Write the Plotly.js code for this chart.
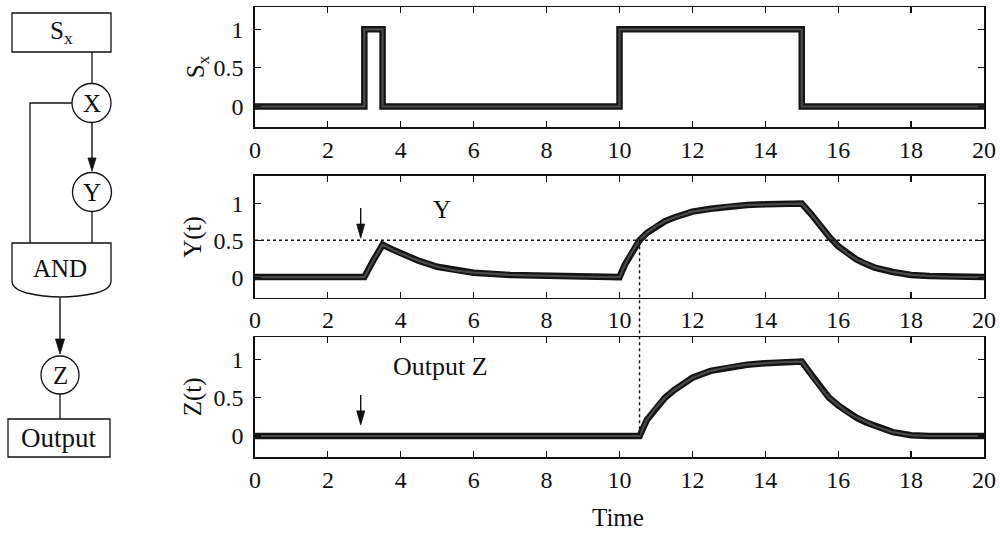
<!DOCTYPE html>
<html>
<head>
<meta charset="utf-8">
<script src="https://cdn.plot.ly/plotly-3.0.1.min.js"></script>
<style>
  html, body { margin: 0; padding: 0; background: #ffffff; }
  #chart { width: 1000px; height: 534px; }
</style>
</head>
<body>
<div id="chart"></div>
<script>
// Input signal Sx: two pulses (short one at t=3, long one from 10 to 15)
const tSx = [0, 3, 3.5, 10, 15, 20];
const sx  = [0, 1, 0,   1,  0,  0];

// Intermediate regulator Y(t)
const tY = [0, 3, 3.25, 3.5, 3.75, 4, 4.5, 5, 5.5, 6, 7, 8, 9, 10,
            10.15, 10.3, 10.55, 10.75, 11, 11.25, 11.5, 12, 12.5, 13, 13.5, 14, 14.5, 15,
            15.25, 15.5, 15.75, 16, 16.25, 16.5, 16.75, 17, 17.5, 18, 18.5, 19, 20];
const yVals = [0, 0, 0.23, 0.44, 0.38, 0.32, 0.22, 0.14, 0.09, 0.06, 0.03, 0.015, 0.005, 0,
            0.17, 0.31, 0.5, 0.6, 0.69, 0.76, 0.81, 0.89, 0.93, 0.96, 0.98, 0.99, 1.0, 1.0,
            0.86, 0.7, 0.55, 0.42, 0.32, 0.24, 0.18, 0.13, 0.07, 0.03, 0.015, 0.005, 0];

// Output Z(t)
const tZ = [0, 10.55, 10.75, 11, 11.25, 11.5, 12, 12.5, 13, 13.5, 14, 14.5, 15,
            15.25, 15.5, 15.75, 16, 16.25, 16.5, 16.75, 17, 17.5, 18, 18.5, 20];
const zVals = [0, 0, 0.21, 0.37, 0.5, 0.6, 0.76, 0.85, 0.9, 0.93, 0.95, 0.965, 0.97,
            0.81, 0.64, 0.5, 0.4, 0.31, 0.24, 0.18, 0.13, 0.05, 0.01, 0, 0];

const xTicks = [0, 2, 4, 6, 8, 10, 12, 14, 16, 18, 20];
const yTicks = [0, 0.5, 1];
const threshold = 0.5;    // activation threshold of Y
const tDelay = 10.55;     // time Y crosses the threshold
const arrowT = 2.9;       // time of the brief pulse marker

const FONT = '"Liberation Serif", "DejaVu Serif", "Times New Roman", serif';
const INK = '#111111';

// panel geometry (paper fractions, full-page paper)
const xDom = [0.255, 0.984];
const dom1 = [0.7616, 0.9863], rng1 = [-0.27, 1.285];
const dom2 = [0.4425, 0.6704], rng2 = [-0.28, 1.374];
const dom3 = [0.1436, 0.3683], rng3 = [-0.278, 1.287];

function paperY(dom, rng, v) {
  return dom[0] + (v - rng[0]) / (rng[1] - rng[0]) * (dom[1] - dom[0]);
}
// pixels per data unit for a panel (page is 1000 x 534)
const pxX = (xDom[1] - xDom[0]) * 1000 / 20;
const pxY = (dom, rng) => (dom[1] - dom[0]) * 534 / (rng[1] - rng[0]);

function xAxis(anchor) {
  return {
    domain: xDom, range: [0, 20], anchor: anchor,
    tickvals: xTicks, ticks: 'inside', ticklen: 6, tickwidth: 1.2, tickcolor: INK,
    showline: true, linecolor: INK, linewidth: 1.6, mirror: 'ticks',
    showgrid: false, zeroline: false, ticklabelstandoff: 0,
    tickfont: { family: FONT, size: 24, color: INK }
  };
}
function yAxis(anchor, dom, rng) {
  return {
    domain: dom, range: rng, anchor: anchor,
    tickvals: yTicks, ticktext: ['0', '0.5', '1'], ticks: 'inside', ticklen: 6, tickwidth: 1.2, tickcolor: INK,
    showline: true, linecolor: INK, linewidth: 1.6, mirror: 'ticks',
    showgrid: false, zeroline: false, ticklabelstandoff: 5,
    tickfont: { family: FONT, size: 24, color: INK }
  };
}

// thick plotted line: dark outer stroke with a lighter core
function thickLine(x, y, xa, ya, shape) {
  return [
    { x: x, y: y, xaxis: xa, yaxis: ya, type: 'scatter', mode: 'lines',
      line: { color: '#141414', width: 6.5, shape: shape || 'linear' }, hoverinfo: 'skip' },
    { x: x, y: y, xaxis: xa, yaxis: ya, type: 'scatter', mode: 'lines',
      line: { color: '#4a4a46', width: 2.2, shape: shape || 'linear' }, hoverinfo: 'skip' }
  ];
}

const traces = [
  ...thickLine(tSx, sx, 'x', 'y', 'hv'),
  ...thickLine(tY, yVals, 'x2', 'y2'),
  ...thickLine(tZ, zVals, 'x3', 'y3'),
  // invisible frame for the network diagram (pixel-like units)
  { x: [], y: [], xaxis: 'x4', yaxis: 'y4', type: 'scatter', mode: 'lines', hoverinfo: 'skip' }
];

// downward-pointing arrow: shaft plus filled head; ky < 0 means the y axis runs top-down
function downArrow(xref, yref, x, yTail, yTip, kx, ky, headLen, headW) {
  const s = ky > 0 ? 1 : -1;
  const hl = headLen / Math.abs(ky), hw = headW / 2 / kx;
  const base = yTip + s * hl;
  return [
    { type: 'line', xref: xref, yref: yref, x0: x, x1: x, y0: yTail, y1: yTip + s * hl * 0.6,
      line: { color: INK, width: 1.4 } },
    { type: 'path', xref: xref, yref: yref, fillcolor: INK, line: { color: INK, width: 0.8 },
      path: `M${x},${yTip} L${x - hw},${base} L${x + hw},${base} Z` }
  ];
}

const D = { xref: 'x4', yref: 'y4' };
const dLine = { color: INK, width: 1.3 };
const shapes = [
  // threshold line in the Y panel
  { type: 'line', xref: 'x2', yref: 'y2', x0: 0, x1: 20, y0: threshold, y1: threshold,
    line: { color: INK, width: 1.4, dash: '3px,3px' } },
  // delay marker from Y crossing down to the start of Z
  { type: 'line', xref: 'x', yref: 'paper', x0: tDelay, x1: tDelay,
    y0: paperY(dom2, rng2, threshold), y1: paperY(dom3, rng3, 0),
    line: { color: INK, width: 1.4, dash: '3px,3px' } },
  // pulse markers at t = 2.9
  ...downArrow('x2', 'y2', arrowT, 0.94, 0.53, pxX, pxY(dom2, rng2), 14, 8),
  ...downArrow('x3', 'y3', arrowT, 0.535, 0.145, pxX, pxY(dom3, rng3), 14, 8),

  // network diagram
  { type: 'rect', ...D, x0: 12, x1: 111, y0: 13, y1: 52, line: dLine },
  { type: 'line', ...D, x0: 92, x1: 92, y0: 52, y1: 83.5, line: dLine },
  { type: 'circle', ...D, x0: 72, x1: 111, y0: 83.5, y1: 122.5, line: dLine },
  { type: 'path', ...D, path: 'M72,103 L30,103 L30,243', line: dLine },
  ...downArrow('x4', 'y4', 92, 122.5, 171, 1, -1, 13, 8),
  { type: 'circle', ...D, x0: 72.5, x1: 111.5, y0: 172.5, y1: 211.5, line: dLine },
  { type: 'line', ...D, x0: 92, x1: 92, y0: 211.5, y1: 243, line: dLine },
  { type: 'path', ...D,
    path: 'M12,243 L111,243 L111,281 Q111,289 96,293 Q60,301 27,293 Q12,289 12,281 Z', line: dLine },
  ...downArrow('x4', 'y4', 60, 298, 354, 1, -1, 15, 9),
  { type: 'circle', ...D, x0: 41, x1: 79, y0: 356, y1: 394, line: dLine },
  { type: 'line', ...D, x0: 60, x1: 60, y0: 394, y1: 419, line: dLine },
  { type: 'rect', ...D, x0: 8, x1: 110, y0: 419, y1: 457, line: dLine }
];

const txt = (size) => ({ family: FONT, size: size, color: INK });
const annotations = [
  // y-axis titles
  { xref: 'paper', yref: 'paper', x: 0.197, y: (dom1[0] + dom1[1]) / 2, text: 'S<sub>x</sub>',
    showarrow: false, textangle: -90, font: txt(25), xanchor: 'center', yanchor: 'middle' },
  { xref: 'paper', yref: 'paper', x: 0.193, y: (dom2[0] + dom2[1]) / 2, text: 'Y(t)',
    showarrow: false, textangle: -90, font: txt(25), xanchor: 'center', yanchor: 'middle' },
  { xref: 'paper', yref: 'paper', x: 0.193, y: (dom3[0] + dom3[1]) / 2, text: 'Z(t)',
    showarrow: false, textangle: -90, font: txt(25), xanchor: 'center', yanchor: 'middle' },
  // x-axis title
  { xref: 'paper', yref: 'paper', x: 0.618, y: 0.031, text: 'Time',
    showarrow: false, font: txt(25), xanchor: 'center', yanchor: 'middle' },
  // in-panel labels
  { xref: 'x2', yref: 'y2', x: 5.13, y: 0.92, text: 'Y', showarrow: false, font: txt(25) },
  { xref: 'x3', yref: 'y3', x: 5.08, y: 0.9, text: 'Output Z', showarrow: false, font: txt(26) },

  // diagram labels
  { ...D, x: 61, y: 32, text: 'S<sub>x</sub>', showarrow: false, font: txt(25) },
  { ...D, x: 91.5, y: 103, text: 'X', showarrow: false, font: txt(25) },
  { ...D, x: 92, y: 192, text: 'Y', showarrow: false, font: txt(25) },
  { ...D, x: 60, y: 268, text: 'AND', showarrow: false, font: txt(25) },
  { ...D, x: 60, y: 375, text: 'Z', showarrow: false, font: txt(25) },
  { ...D, x: 59, y: 438, text: 'Output', showarrow: false, font: txt(27) }
];

const layout = {
  width: 1000, height: 534,
  margin: { l: 0, r: 0, t: 0, b: 0 },
  paper_bgcolor: '#ffffff', plot_bgcolor: 'rgba(0,0,0,0)',
  showlegend: false,
  font: { family: FONT, color: INK },
  xaxis: xAxis('y'), yaxis: yAxis('x', dom1, rng1),
  xaxis2: xAxis('y2'), yaxis2: yAxis('x2', dom2, rng2),
  xaxis3: xAxis('y3'), yaxis3: yAxis('x3', dom3, rng3),
  xaxis4: { domain: [0, 0.15], range: [0, 150], anchor: 'y4', visible: false, fixedrange: true },
  yaxis4: { domain: [0, 1], range: [534, 0], anchor: 'x4', visible: false, fixedrange: true },
  shapes: shapes,
  annotations: annotations
};

Plotly.newPlot('chart', traces, layout, { staticPlot: true, displayModeBar: false });
</script>
</body>
</html>
